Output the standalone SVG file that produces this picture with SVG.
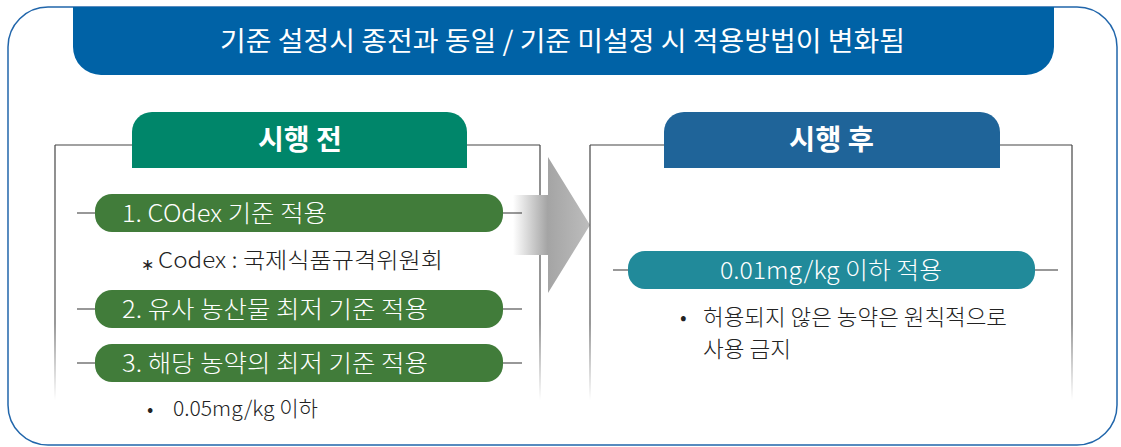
<svg xmlns="http://www.w3.org/2000/svg" width="1121" height="447" viewBox="0 0 1121 447">
<style>
text{font-family:"Noto Sans CJK KR","Noto Sans",sans-serif}
.wt{fill:#fff}
.bd{fill:#222;font-weight:300}
.tab{font-size:28px;font-weight:700;fill:#fff}
.pill{font-size:24px;fill:#fff;font-weight:300}
.gp{fill:#417c3a}
.ln{stroke:#333;stroke-width:1.2;fill:none}
.bx{stroke:#444;stroke-width:1.2;fill:none}
</style>
<defs>
<linearGradient id="fadeL" x1="0" y1="145" x2="0" y2="400" gradientUnits="userSpaceOnUse">
<stop offset="0" stop-color="#444"/><stop offset="0.7" stop-color="#555"/><stop offset="1" stop-color="#fff"/>
</linearGradient>
<linearGradient id="arr" x1="513" y1="0" x2="590" y2="0" gradientUnits="userSpaceOnUse">
<stop offset="0" stop-color="#fff"/><stop offset="0.45" stop-color="#a4a4a4"/><stop offset="1" stop-color="#bdbdbd"/>
</linearGradient>
</defs>
<g id="frame">
<rect x="8" y="7" width="1109" height="438" rx="40" ry="40" fill="#fff" stroke="#2166ab" stroke-width="1.5"/>
</g>
<g id="title">
<path d="M73,7 H1054 V47 A28,28 0 0 1 1026,75 H101 A28,28 0 0 1 73,47 Z" fill="#0062a6"/>
<text x="220" y="51" font-size="27" class="wt" textLength="685" lengthAdjust="spacingAndGlyphs">기준 설정시 종전과 동일 / 기준 미설정 시 적용방법이 변화됨</text>
</g>
<g id="before">
<path class="bx" d="M132,145 H55 M467,145 H540"/>
<path d="M55,145 V400 M540,145 V400" stroke="url(#fadeL)" stroke-width="1.2" fill="none"/>
<path d="M132,168 V132 A20,20 0 0 1 152,112 H447 A20,20 0 0 1 467,132 V168 Z" fill="#00866a"/>
<text x="258" y="150" class="tab" textLength="84" lengthAdjust="spacingAndGlyphs">시행 전</text>
</g>
<g id="arrow">
<path d="M513,195 H548 V157 L590,225 L548,293 V255 H513 Z" fill="url(#arr)"/>
</g>
<g id="after">
<path class="bx" d="M664,145 H590 M1000,145 H1072"/>
<path d="M590,145 V400 M1072,145 V400" stroke="url(#fadeL)" stroke-width="1.2" fill="none"/>
<path d="M664,168 V132 A20,20 0 0 1 684,112 H980 A20,20 0 0 1 1000,132 V168 Z" fill="#1f6499"/>
<text x="789" y="150" class="tab" textLength="85" lengthAdjust="spacingAndGlyphs">시행 후</text>
</g>
<g id="connectors">
<path class="ln" d="M77,213 H95 M503,213 H522 M77,309 H95 M503,309 H522 M77,363 H95 M503,363 H522 M613,270 H628 M1035,270 H1058"/>
</g>
<g id="item1">
<rect x="95" y="194" width="408" height="38" rx="17" class="gp"/>
<text x="122" y="222" class="pill" textLength="205" lengthAdjust="spacingAndGlyphs">1. COdex 기준 적용</text>
</g>
<g id="note1">
<text x="141" y="270" font-size="16" class="bd">∗</text>
<text x="158" y="268" font-size="22" class="bd" textLength="285" lengthAdjust="spacingAndGlyphs">Codex : 국제식품규격위원회</text>
</g>
<g id="item2">
<rect x="95" y="290" width="408" height="38" rx="17" class="gp"/>
<text x="122" y="318" class="pill" textLength="306" lengthAdjust="spacingAndGlyphs">2. 유사 농산물 최저 기준 적용</text>
</g>
<g id="item3">
<rect x="95" y="344" width="408" height="38" rx="17" class="gp"/>
<text x="122" y="372" class="pill" textLength="306" lengthAdjust="spacingAndGlyphs">3. 해당 농약의 최저 기준 적용</text>
</g>
<g id="note3">
<text x="147" y="416" font-size="20" class="bd">•</text>
<text x="173" y="416" font-size="21" class="bd" textLength="145" lengthAdjust="spacingAndGlyphs">0.05mg/kg 이하</text>
</g>
<g id="itemAfter">
<rect x="628" y="251" width="407" height="38" rx="17" fill="#218a9a"/>
<text x="720" y="279" class="pill" textLength="222" lengthAdjust="spacingAndGlyphs">0.01mg/kg 이하 적용</text>
</g>
<g id="noteAfter">
<text x="680" y="325" font-size="21" class="bd">•</text>
<text x="703" y="325" font-size="22" class="bd" textLength="304" lengthAdjust="spacingAndGlyphs">허용되지 않은 농약은 원칙적으로</text>
<text x="703" y="357" font-size="22" class="bd" textLength="88" lengthAdjust="spacingAndGlyphs">사용 금지</text>
</g>
</svg>
